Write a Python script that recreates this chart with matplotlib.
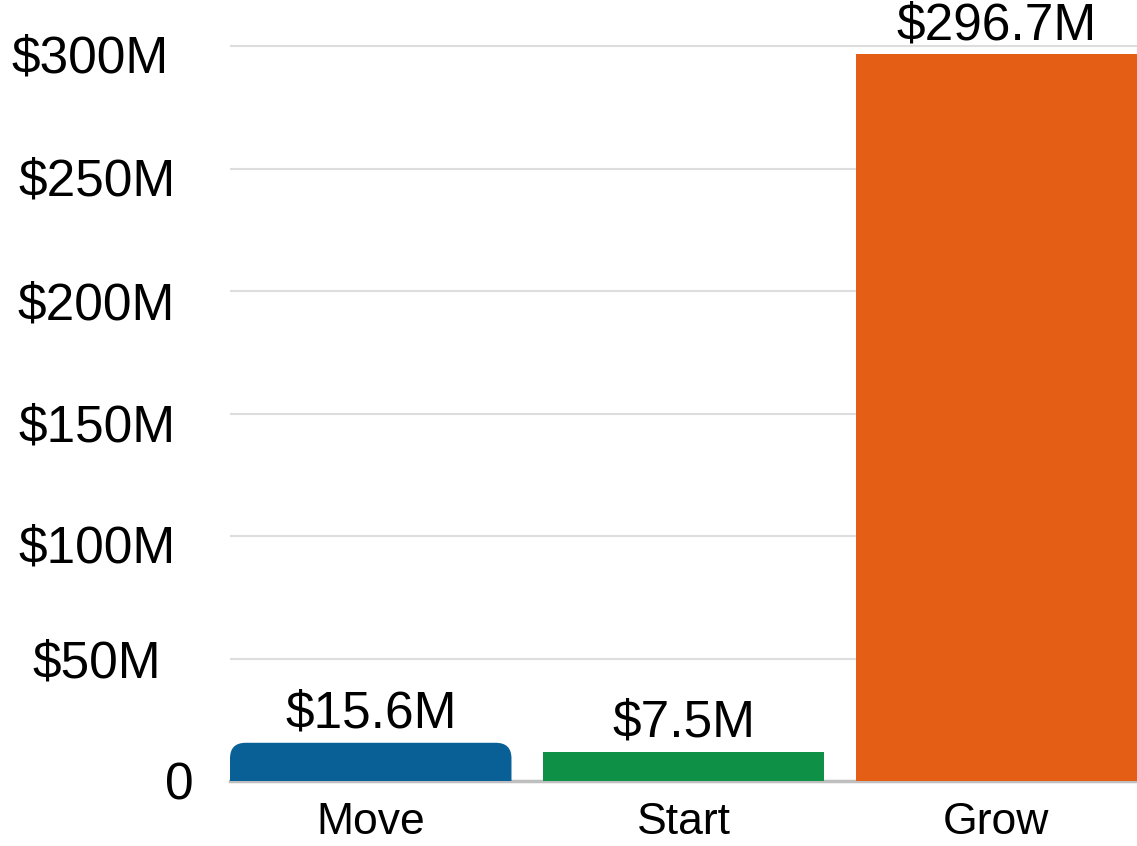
import matplotlib
matplotlib.use("Agg")
import matplotlib.pyplot as plt
from matplotlib.patches import FancyBboxPatch
from matplotlib.transforms import ScaledTranslation

categories = ["Move", "Start", "Grow"]
bar_heights = [15.6, 11.8, 296.7]  # $M, as drawn in the reference
labels = ["$15.6M", "$7.5M", "$296.7M"]
colors = ["#086096", "#0E9146", "#E45E15"]
yticks = [0, 50, 100, 150, 200, 250, 300]
ytick_labels = ["0", "$50M", "$100M", "$150M", "$200M", "$250M", "$300M"]

plt.rcParams['font.family'] = ['Liberation Sans', 'DejaVu Sans']

fig = plt.figure(figsize=(11.37, 8.46), dpi=100)
ax = fig.add_axes([230/1137, 1-781/846, 1-230/1137, 779/846])

x = list(range(len(categories)))
bars = ax.bar(x, bar_heights, width=0.9, color=colors, zorder=2)

# rounded top corners for first bar
b = bars[0]
bx, bw, bh = b.get_x(), b.get_width(), b.get_height()
b.remove()
r = 0.05
aspect = (1/2.457) / (1/313.0)
patch = FancyBboxPatch((bx, -r*aspect*2), bw, bh + r*aspect*2,
                       boxstyle=f"round,pad=0,rounding_size={r}",
                       mutation_aspect=aspect, facecolor=colors[0],
                       edgecolor='none', zorder=2, clip_on=True)
ax.add_patch(patch)

for xi, v, lab in zip(x, bar_heights, labels):
    ax.annotate(lab, (xi, v), xytext=(0, 3), textcoords='offset points',
                ha='center', va='bottom', fontsize=37, color='black', zorder=3)

ax.set_xlim(-0.45, 2.45)
ax.set_ylim(0, 318)
ax.set_xticks(x)
ax.set_xticklabels(categories, fontsize=32)
ax.set_yticks(yticks)
ax.set_yticklabels(ytick_labels, fontsize=37, ha='center')
ax.tick_params(axis='y', length=0, pad=96)
ax.tick_params(axis='x', length=0, pad=15)
ax.grid(axis='y', color='#DDDDDD', linewidth=1.5, zorder=0)
ax.set_axisbelow(True)
for s in ['top', 'right', 'left']:
    ax.spines[s].set_visible(False)
ax.spines['bottom'].set_color('#BFBFBF')
ax.spines['bottom'].set_linewidth(2.5)
ax.spines['bottom'].set_zorder(1)

# per-label nudges (pixels)
offsets = {0: (83, 0), 1: (0, 0), 2: (0, -7), 3: (0, -9), 4: (0, -9), 5: (0, -8), 6: (-7, -7)}
for i, lab in enumerate(ax.get_yticklabels()):
    dx, dy = offsets.get(i, (0, 0))
    lab.set_transform(lab.get_transform() + ScaledTranslation(dx/100, dy/100, fig.dpi_scale_trans))

fig.savefig("out.png", dpi=100)
